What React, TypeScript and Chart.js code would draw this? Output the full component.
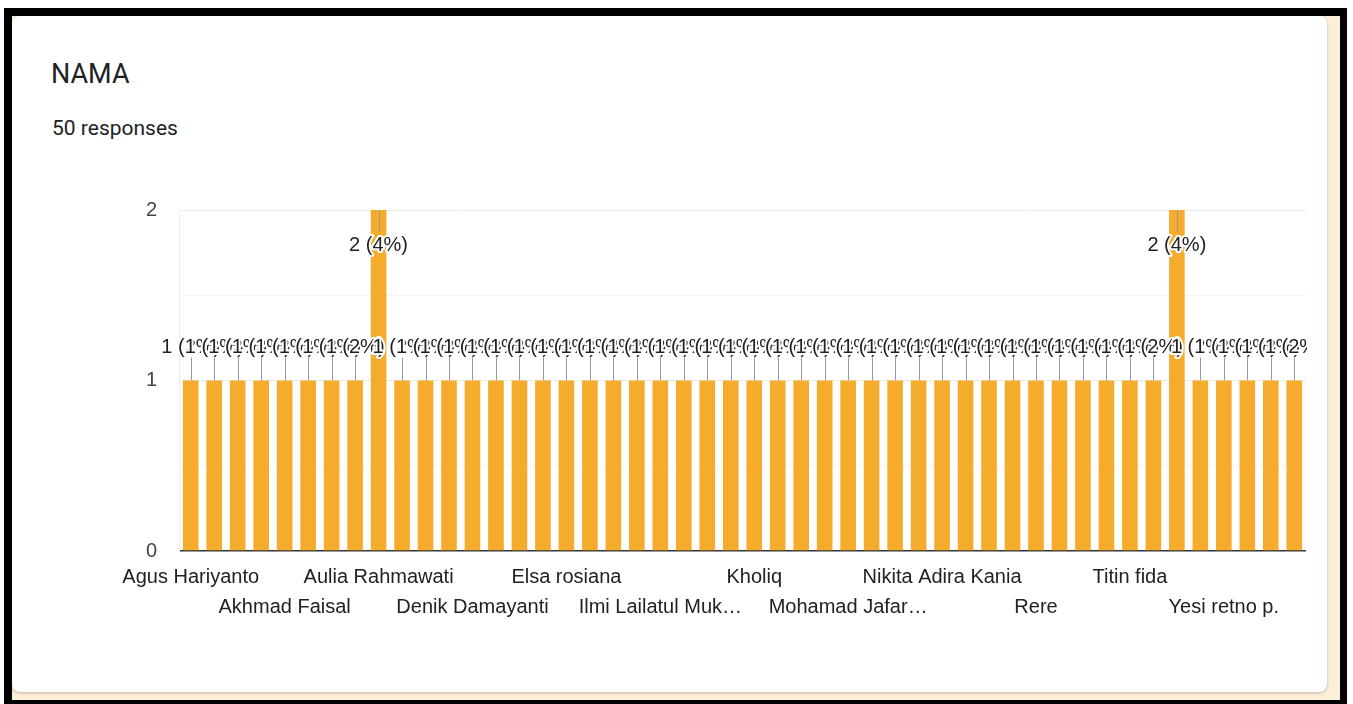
import * as React from 'react';
import {useEffect, useRef} from 'react';
import {Chart, registerables} from 'chart.js';

Chart.register(...registerables);

const TITLE = 'NAMA';
const TOTAL_RESPONSES = 50;

// names in the order of the form summary (only every 4th one is printed on the axis)
const names = [
  'Agus Hariyanto', 'Ahmad Fauzi', 'Ahmad Rizki', 'Aisyah Putri',
  'Akhmad Faisal', 'Alfina Nur', 'Anisa Fitri', 'Arif Setiawan',
  'Aulia Rahmawati', 'Bayu Pratama', 'Budi Santoso', 'Dewi Lestari',
  'Denik Damayanti', 'Dian Purnama', 'Dwi Astuti', 'Eka Saputra',
  'Elsa rosiana', 'Fajar Nugroho', 'Fitriani', 'Hendra Wijaya',
  'Ilmi Lailatul Muk…', 'Indah Sari', 'Intan Permata', 'Khoirul Anam',
  'Kholiq', 'Lina Marlina', 'Lukman Hakim', 'Maya Sari',
  'Mohamad Jafar…', 'Muhammad Rizal', 'Nadia Safitri', 'Nanda Putri',
  'Nikita Adira Kania', 'Nur Aini', 'Puji Rahayu', 'Rahmat Hidayat',
  'Rere', 'Rina Wati', 'Siti Aminah', 'Sri Wahyuni',
  'Titin fida', 'Tri Handayani', 'Umi Kulsum', 'Wahyu Hidayat',
  'Yesi retno p.', 'Yuliana', 'Yusuf Ahmad', 'Zahra Amelia',
];

const counts = [
  1, 1, 1, 1, 1, 1, 1, 1,
  2, 1, 1, 1, 1, 1, 1, 1,
  1, 1, 1, 1, 1, 1, 1, 1,
  1, 1, 1, 1, 1, 1, 1, 1,
  1, 1, 1, 1, 1, 1, 1, 1,
  1, 1, 2, 1, 1, 1, 1, 1,
];

const yTicks = [0, 0.5, 1, 1.5, 2];

const BAR_COLOR = '#f5ac2c';
const CHART_FONT = '"Liberation Sans", Arial, sans-serif';

// google-forms style annotations: "n (p%)" with a leader line and a white halo
const annotationPlugin = {
  id: 'annotations',
  afterDatasetsDraw(chart) {
    const {ctx, chartArea} = chart;
    const meta = chart.getDatasetMeta(0);
    ctx.save();
    ctx.beginPath();
    ctx.rect(0, 0, chartArea.right + 1, chart.height);
    ctx.clip();
    ctx.font = '20px ' + CHART_FONT;
    ctx.textAlign = 'center';
    ctx.textBaseline = 'middle';
    ctx.lineJoin = 'round';
    meta.data.forEach((bar, i) => {
      const v = counts[i];
      const text = `${v} (${Math.round(v / TOTAL_RESPONSES * 100)}%)`;
      const x = Math.round(bar.x) + 0.5;
      const top = bar.y;
      const inside = top - 45 < chartArea.top;
      const lineEnd = inside ? top + 22 : top - 23;
      const ly = inside ? top + 35 : top - 33;
      ctx.strokeStyle = '#999';
      ctx.lineWidth = 1;
      ctx.beginPath();
      ctx.moveTo(x, top);
      ctx.lineTo(x, lineEnd);
      ctx.stroke();
      ctx.strokeStyle = '#fff';
      ctx.lineWidth = 4;
      ctx.strokeText(text, bar.x, ly);
      ctx.fillStyle = '#222';
      ctx.fillText(text, bar.x, ly);
    });
    ctx.restore();
  },
};

const NamaChart = () => {
  const canvasRef = useRef(null);

  useEffect(() => {
    const chart = new Chart(canvasRef.current, {
      type: 'bar',
      data: {
        labels: names,
        datasets: [{
          data: counts,
          backgroundColor: BAR_COLOR,
          borderWidth: 0,
          categoryPercentage: 1,
          barPercentage: 0.665,
        }],
      },
      options: {
        animation: false,
        responsive: true,
        maintainAspectRatio: false,
        layout: {padding: {top: 60, right: 21, bottom: 18, left: 0}},
        plugins: {legend: {display: false}, tooltip: {enabled: false}},
        scales: {
          x: {
            grid: {display: false, drawTicks: false},
            border: {display: false},
            afterFit: (axis) => { axis.height = 71; },
            ticks: {
              autoSkip: false,
              maxRotation: 0,
              minRotation: 0,
              padding: 11,
              color: '#222',
              font: {family: CHART_FONT, size: 20, lineHeight: 1.5},
              callback: (value, index) => {
                if (index % 8 === 0) return names[index];
                if (index % 8 === 4) return ['', names[index]];
                return '';
              },
            },
          },
          y: {
            min: 0,
            max: 2,
            afterFit: (axis) => { axis.width = 167; },
            afterBuildTicks: (axis) => { axis.ticks = yTicks.map(v => ({value: v})); },
            border: {display: true, color: '#eeeeee'},
            grid: {
              drawTicks: false,
              color: (c) => c.tick.value === 0 ? '#333' : (c.tick.value % 1 === 0 ? '#ebebeb' : '#f5f5f5'),
              lineWidth: (c) => c.tick.value === 0 ? 1.5 : 1,
            },
            ticks: {
              padding: 22,
              color: '#444',
              font: {family: CHART_FONT, size: 20},
              callback: (v) => (v % 1 === 0 ? String(v) : ''),
            },
          },
        },
      },
      plugins: [annotationPlugin],
    });
    return () => chart.destroy();
  }, []);

  return <canvas ref={canvasRef} />;
};

export default function App() {
  useEffect(() => {
    document.body.style.margin = '0';
  }, []);

  return <div style={{position: 'relative', width: 1353, height: 704, background: '#fff', overflow: 'hidden'}}>
    <div style={{
      position: 'absolute', left: 4, top: 8, width: 1343, height: 696, boxSizing: 'border-box',
      borderStyle: 'solid', borderColor: '#000', borderWidth: '8px 7px 4px 8px', background: '#fcefd8',
    }}>
      <div style={{
        position: 'absolute', left: 0, top: 0, width: 1315, height: 676, background: '#fff',
        borderRadius: 8, boxShadow: '0 1px 3px rgba(0,0,0,0.25)',
      }}>
        <div style={{position: 'absolute', left: 39, top: 45, fontFamily: 'Roboto, sans-serif', fontSize: 27, lineHeight: 1, color: '#202124'}}>
          {TITLE}
        </div>
        <div style={{position: 'absolute', left: 40, top: 102, fontFamily: 'Roboto, sans-serif', fontSize: 21, lineHeight: 1, color: '#202124'}}>
          {TOTAL_RESPONSES} responses
        </div>
        <div style={{position: 'absolute', left: 0, top: 134, width: 1315, height: 490}}>
          <NamaChart />
        </div>
      </div>
    </div>
  </div>;
}
